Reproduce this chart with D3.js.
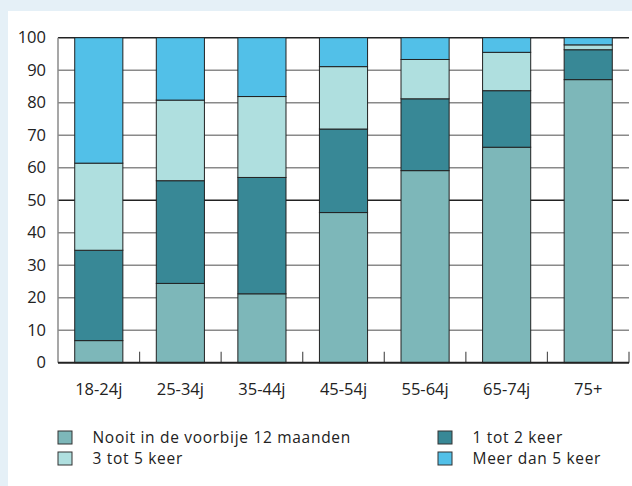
<!DOCTYPE html>
<html><head><meta charset="utf-8">
<script src="https://cdn.jsdelivr.net/npm/d3@7"></script>
<style>html,body{margin:0;padding:0;background:#e5f0f7;}svg{display:block;}</style>
</head><body>
<svg id="c" width="632" height="486"></svg>
<script>
const categories = ["18-24j","25-34j","35-44j","45-54j","55-64j","65-74j","75+"];
const seriesNames = ["Nooit in de voorbije 12 maanden","1 tot 2 keer","3 tot 5 keer","Meer dan 5 keer"];
const nooit   = [6.8, 24.4, 21.2, 46.2, 59.1, 66.3, 87.1];
const keer1_2 = [27.8, 31.6, 35.8, 25.7, 22.1, 17.4, 9.2];
const keer3_5 = [26.8, 24.8, 24.9, 19.2, 12.1, 11.8, 1.5];
const meer5   = [38.6, 19.2, 18.1, 8.9, 6.7, 4.5, 2.2];
const yTicks = [0,10,20,30,40,50,60,70,80,90,100];
const colors = ["#7db7b9","#388896","#afdfdf","#52c0e8"];

const svg = d3.select("#c");
const font = "'Open Sans', sans-serif";
svg.append("rect").attr("x",8).attr("y",11).attr("width",624).attr("height",475).attr("fill","#ffffff");

const L=58, R=629, T=37.7, B=362.7;
const y = d3.scaleLinear().domain([0,100]).range([B,T]);
const x = d3.scaleBand().domain(categories).range([L,R]).paddingInner(0.41).paddingOuter(0.205);
const x0 = d3.scaleBand().domain(categories).range([L,R]).padding(0);

// grid
const g = svg.append("g");
g.selectAll("line.grid").data(yTicks.filter(d=>d>0)).join("line")
  .attr("x1",L).attr("x2",R).attr("y1",d=>y(d)).attr("y2",d=>y(d))
  .attr("stroke",d=> (d===50||d===100)?"#222":"#8a8a8a").attr("stroke-width",1.5);
g.append("line").attr("x1",L).attr("x2",L).attr("y1",T).attr("y2",B).attr("stroke","#8a8a8a").attr("stroke-width",1.5);

// y labels
const yAxis = d3.axisLeft(y).tickValues(yTicks).tickSize(0).tickPadding(12);
const ya = svg.append("g").attr("transform",`translate(${L},0)`).call(yAxis);
ya.select(".domain").remove();
ya.selectAll("text").attr("font-family",font).attr("font-size","16.5px").attr("fill","#222");

// stacked bars
const rows = categories.map((c,i)=>({cat:c, s0:nooit[i], s1:keer1_2[i], s2:keer3_5[i], s3:meer5[i]}));
const stack = d3.stack().keys(["s0","s1","s2","s3"])(rows);
svg.append("g").selectAll("g").data(stack).join("g").attr("fill",(d,i)=>colors[i])
  .selectAll("rect").data(d=>d).join("rect")
  .attr("x",d=>x(d.data.cat)).attr("width",x.bandwidth())
  .attr("y",d=>y(Math.min(100,d[1]))).attr("height",d=>y(d[0])-y(Math.min(100,d[1])))
  .attr("stroke","#222").attr("stroke-width",1);

// bottom ticks between bars
const bounds = categories.slice(1).map(c=>x0(c)).concat([R]);
svg.append("g").selectAll("line").data(bounds).join("line")
  .attr("x1",d=>d).attr("x2",d=>d).attr("y1",B-11).attr("y2",B)
  .attr("stroke","#555").attr("stroke-width",1.2);
// x axis
const xAxis = d3.axisBottom(x).tickSize(0).tickPadding(21);
const xa = svg.append("g").attr("transform",`translate(0,${B})`).call(xAxis);
xa.select(".domain").remove();
xa.selectAll("text").attr("font-family",font).attr("font-size","16.5px").attr("fill","#222");
svg.append("line").attr("x1",L).attr("x2",R).attr("y1",B).attr("y2",B).attr("stroke","#222").attr("stroke-width",2);

// legend
const legPos = [[58,431],[438,431],[58,452],[438,452]];
const lg = svg.append("g").selectAll("g").data([0,1,2,3]).join("g")
  .attr("transform",(d,i)=>`translate(${legPos[i][0]},${legPos[i][1]})`);
lg.append("rect").attr("width",14).attr("height",13).attr("fill",d=>colors[d]).attr("stroke","#333").attr("stroke-width",1);
lg.append("text").attr("x",34.5).attr("y",11.8).text(d=>seriesNames[d])
  .attr("font-family",font).attr("font-size","15.5px").attr("letter-spacing","0.7px").attr("fill","#222");
</script>
</body></html>
